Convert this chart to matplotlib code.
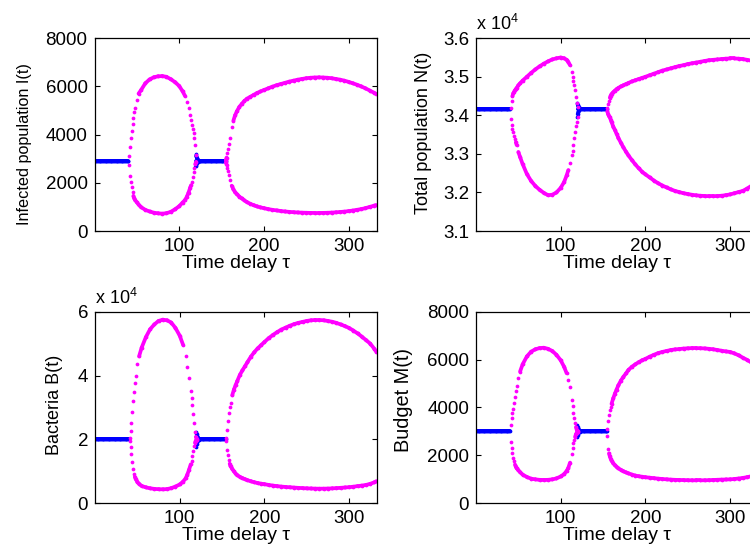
import numpy as np
import matplotlib
matplotlib.use('Agg')
from matplotlib import pyplot as plt
from matplotlib.ticker import FuncFormatter
from matplotlib.collections import LineCollection

plt.rcParams['font.family'] = ['Liberation Sans', 'DejaVu Sans']
plt.rcParams['mathtext.default'] = 'regular'

# delay values of the two oscillation windows (max/min branches)
tau_osc1 = [41, 42, 43, 44, 45, 46, 47, 48, 50, 52, 55, 60, 65, 70, 75, 80, 85, 90, 95, 100,
            104, 107, 109, 111, 113, 114, 115, 116, 117, 118, 119, 120]
tau_osc2 = [155, 156, 157, 158, 159, 160, 162, 164, 166, 168, 171, 174, 177, 180, 184, 188, 192, 196,
            200, 205, 210, 215, 220, 225, 230, 235, 240, 245, 250, 255, 260, 265, 270, 275, 280,
            285, 290, 295, 300, 305, 310, 315, 320, 325, 330, 332]
# stable windows
tau_stable1 = np.arange(0, 41)
tau_stable2 = np.arange(120, 156)
tau_arm = [119.5, 120, 121, 122, 123]

# equilibrium values
I_eq, N_eq, B_eq, M_eq = 2900, 34170, 20000, 3000

# infected population I(t)
I_max1 = [3100, 3500, 3850, 4150, 4450, 4700, 4950, 5100, 5450, 5700, 5850, 6130, 6290, 6380, 6420, 6430,
          6400, 6300, 6180, 6020, 5800, 5600, 5350, 5100, 4800, 4600, 4420, 4250, 4050, 3850, 3550, 3150]
I_min1 = [2750, 2270, 2050, 1830, 1620, 1460, 1350, 1280, 1190, 1100, 990, 880, 810, 760, 735, 720,
          740, 795, 900, 1030, 1180, 1290, 1420, 1590, 1800, 1900, 2050, 2230, 2450, 2620, 2780, 2870]
I_max2 = [2950, 3050, 3250, 3400, 3630, 3880, 4300, 4580, 4800, 4960, 5150, 5280, 5400, 5490, 5570, 5650,
          5730, 5790, 5850, 5920, 5990, 6050, 6100, 6150, 6200, 6240, 6280, 6310, 6340, 6360, 6370, 6375,
          6370, 6360, 6340, 6310, 6280, 6240, 6190, 6130, 6070, 6000, 5920, 5830, 5740, 5700]
I_min2 = [2850, 2750, 2600, 2480, 2310, 2120, 1880, 1730, 1610, 1530, 1430, 1350, 1270, 1200, 1130, 1070,
          1020, 980, 950, 910, 880, 855, 830, 810, 795, 780, 770, 762, 757, 752, 750, 750,
          752, 757, 765, 775, 790, 805, 825, 850, 880, 910, 950, 1000, 1050, 1080]
I_arm_hi = [3180, 3120, 3030, 2960, 2920]
I_arm_lo = [2690, 2740, 2810, 2860, 2890]

# total population N(t)
N_max1 = [34200, 34380, 34500, 34570, 34610, 34650, 34680, 34710, 34780, 34830, 34900, 35000, 35100, 35190,
          35270, 35340, 35400, 35450, 35480, 35500, 35480, 35440, 35380, 35300, 35120, 35000, 34900, 34790,
          34650, 34480, 34310, 34220]
N_min1 = [33900, 33760, 33640, 33560, 33470, 33390, 33300, 33230, 33050, 32920, 32740, 32480, 32300, 32170,
          32070, 31990, 31930, 31940, 32000, 32120, 32270, 32440, 32580, 32760, 32960, 33080, 33220, 33400,
          33560, 33720, 33840, 33950]
N_max2 = [34200, 34300, 34380, 34460, 34510, 34550, 34600, 34640, 34680, 34710, 34750, 34780, 34810, 34840,
          34880, 34910, 34940, 34970, 35000, 35040, 35080, 35120, 35160, 35190, 35220, 35250, 35280, 35300,
          35330, 35350, 35370, 35390, 35410, 35430, 35440, 35450, 35460, 35470, 35475, 35475, 35470, 35460,
          35440, 35420, 35390, 35380]
N_min2 = [34100, 34030, 33980, 33950, 33890, 33830, 33710, 33620, 33520, 33420, 33290, 33170, 33060, 32960,
          32840, 32730, 32630, 32540, 32470, 32390, 32310, 32240, 32180, 32130, 32080, 32040, 32010, 31980,
          31960, 31940, 31925, 31915, 31908, 31905, 31905, 31908, 31915, 31930, 31950, 31980, 32010, 32040,
          32100, 32170, 32250, 32280]
N_arm_hi = [34330, 34280, 34230, 34200, 34180]
N_arm_lo = [33960, 34030, 34090, 34130, 34160]

# bacteria B(t)
B_max1 = [20500, 22500, 25000, 28500, 32000, 35000, 37800, 40000, 43500, 46000, 48700, 52000, 54500, 56000,
          57100, 57500, 57300, 56600, 54900, 52500, 49600, 46200, 42700, 39200, 35300, 33000, 30800, 28000,
          25000, 22300, 20800, 20200]
B_min1 = [19500, 17500, 15500, 13000, 10800, 9300, 8300, 7600, 6700, 6100, 5450, 5000, 4700, 4520, 4420,
          4380, 4450, 4750, 5250, 5900, 6800, 7800, 9000, 10500, 12200, 13300, 14900, 16500, 18000, 19000,
          19600, 19900]
B_max2 = [20500, 22900, 25800, 28200, 30000, 31500, 33800, 35600, 37000, 38300, 40200, 41600, 42900, 44200,
          45900, 47300, 48500, 49500, 50500, 51700, 52700, 53600, 54400, 55000, 55600, 56100, 56500, 56800,
          57100, 57300, 57400, 57400, 57300, 57100, 56850, 56500, 56000, 55500, 54900, 54100, 53200, 52200,
          51100, 50000, 48300, 47500]
B_min2 = [19500, 16700, 15000, 13500, 12400, 11600, 10800, 10000, 9300, 8800, 8300, 7900, 7550, 7250, 6900,
          6600, 6350, 6150, 6000, 5750, 5550, 5380, 5240, 5120, 5020, 4930, 4840, 4760, 4690, 4640, 4600,
          4580, 4590, 4620, 4680, 4760, 4850, 4950, 5050, 5200, 5380, 5550, 5750, 6100, 6600, 6900]
B_arm_hi = [22400, 21600, 20900, 20400, 20150]
B_arm_lo = [17700, 18600, 19300, 19700, 19900]

# budget M(t)
M_max1 = [3250, 3550, 3750, 3950, 4200, 4450, 4700, 4900, 5250, 5500, 5800, 6130, 6330, 6430, 6480, 6495,
          6450, 6360, 6200, 5970, 5700, 5430, 5150, 4870, 4320, 4050, 3750, 3550, 3350, 3180, 3060, 3020]
M_min1 = [2550, 2300, 2100, 1900, 1750, 1620, 1530, 1460, 1380, 1300, 1200, 1100, 1030, 1000, 980, 975,
          980, 1000, 1040, 1120, 1220, 1350, 1480, 1700, 2050, 2300, 2500, 2650, 2780, 2880, 2950, 2980]
M_max2 = [3100, 3450, 3700, 3880, 4020, 4150, 4380, 4580, 4750, 4920, 5120, 5280, 5420, 5570, 5700, 5800,
          5890, 5970, 6030, 6120, 6200, 6270, 6320, 6360, 6400, 6425, 6440, 6460, 6470, 6480, 6480, 6475,
          6465, 6450, 6430, 6400, 6370, 6340, 6320, 6260, 6180, 6080, 5990, 5880, 5730, 5680]
M_min2 = [2800, 2250, 2080, 1960, 1860, 1780, 1670, 1590, 1520, 1460, 1400, 1340, 1290, 1250, 1200, 1160,
          1130, 1110, 1090, 1070, 1050, 1030, 1015, 1000, 990, 980, 975, 970, 965, 962, 960, 960,
          962, 967, 975, 982, 990, 995, 1000, 1015, 1035, 1060, 1090, 1130, 1180, 1200]
M_arm_hi = [3270, 3180, 3100, 3050, 3020]
M_arm_lo = [2780, 2860, 2920, 2970, 2990]

MAGENTA = '#ff00ff'
BLUE = '#0000ff'


def branch(ax, tau, vals, color):
    # dots at every sample; where the dots sit closer than ~3 px per unit of tau the branch
    # is drawn as a solid band, otherwise the dots stay apart
    tau = np.asarray(tau, float)
    vals = np.asarray(vals, float)
    ax.plot(tau, vals, linestyle='none', marker='o', ms=2.7, mew=0, color=color)
    pts = np.column_stack([tau, vals])
    pix = ax.transData.transform(pts)
    step = np.hypot(*np.diff(pix, axis=0).T) / np.diff(tau)
    segs = [pts[i:i + 2] for i in range(len(tau) - 1) if step[i] < 3.0]
    ax.add_collection(LineCollection(segs, colors=color, linewidths=2.7, capstyle='round'))


def bif_panel(ax, eq, osc, arms, ylabel, ylim, yticks, label_size, label_xy, scaled=False):
    ax.set_xlim(0, 333)
    ax.set_ylim(*ylim)
    # stable equilibrium (blue)
    for tau in (tau_stable1, tau_stable2):
        branch(ax, tau, [eq] * len(tau), BLUE)
    for arm in arms:
        branch(ax, tau_arm, arm, BLUE)
    # max / min of the periodic solution (magenta)
    for tau, vals in zip([tau_osc1, tau_osc1, tau_osc2, tau_osc2], osc):
        branch(ax, tau, vals, MAGENTA)

    ax.set_xticks([100, 200, 300])
    ax.set_yticks(yticks)
    ax.tick_params(direction='in', top=True, right=True, length=3.5, width=0.8,
                   labelsize=13.5, pad=5)
    for s in ax.spines.values():
        s.set_linewidth(0.9)
    ax.set_xlabel('Time delay τ', fontsize=14, labelpad=0)
    ax.set_ylabel(ylabel, fontsize=label_size)
    ax.yaxis.set_label_coords(*label_xy)
    if scaled:
        ax.yaxis.set_major_formatter(FuncFormatter(lambda v, p: '%g' % (v / 1e4)))
        ax.text(0, 1.042, 'x 10$^4$', transform=ax.transAxes, fontsize=13,
                ha='left', va='baseline')


fig = plt.figure(figsize=(7.5, 5.54), dpi=100)
ax1 = fig.add_axes([0.126, 0.583, 0.376, 0.348])
ax2 = fig.add_axes([0.6347, 0.583, 0.376, 0.348])
ax3 = fig.add_axes([0.1267, 0.0915, 0.376, 0.3459])
ax4 = fig.add_axes([0.6347, 0.0915, 0.376, 0.3459])

bif_panel(ax1, I_eq, [I_max1, I_min1, I_max2, I_min2], [I_arm_hi, I_arm_lo],
          'Infected population I(t)', (0, 8000), [0, 2000, 4000, 6000, 8000],
          11.7, (-0.222, 0.452))
bif_panel(ax2, N_eq, [N_max1, N_min1, N_max2, N_min2], [N_arm_hi, N_arm_lo],
          'Total population N(t)', (31000, 36000),
          [31000, 32000, 33000, 34000, 35000, 36000], 13.1, (-0.156, 0.51), scaled=True)
bif_panel(ax3, B_eq, [B_max1, B_min1, B_max2, B_min2], [B_arm_hi, B_arm_lo],
          'Bacteria B(t)', (0, 60000), [0, 20000, 40000, 60000], 13.0, (-0.114, 0.513),
          scaled=True)
bif_panel(ax4, M_eq, [M_max1, M_min1, M_max2, M_min2], [M_arm_hi, M_arm_lo],
          'Budget M(t)', (0, 8000), [0, 2000, 4000, 6000, 8000], 14.4, (-0.223, 0.539))

plt.savefig('out.png', dpi=100)
